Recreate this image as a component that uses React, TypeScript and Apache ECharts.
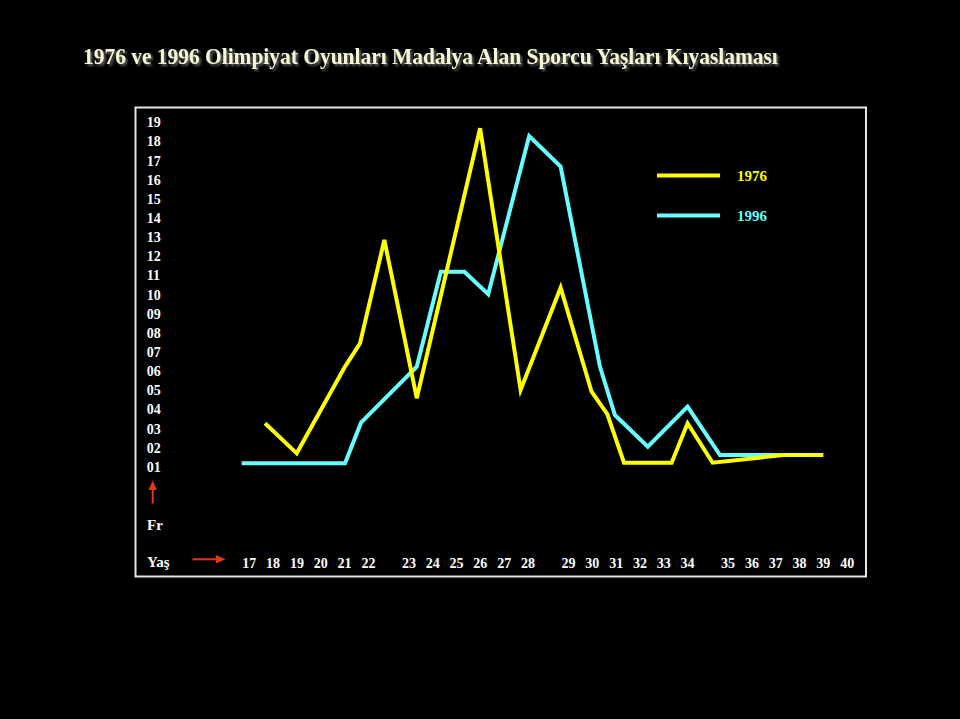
import React, { useEffect, useRef } from "react";
import * as echarts from "echarts";

// Tick labels (ages) – printed in four groups of six with a wider gap between groups
const AGE_LABELS = [
  "17", "18", "19", "20", "21", "22",
  "23", "24", "25", "26", "27", "28",
  "29", "30", "31", "32", "33", "34",
  "35", "36", "37", "38", "39", "40",
];
const GROUP_SIZE = 6;
const GROUP_GAP = 0.7;

// Frequency tick labels
const FREQ_TICKS = [1, 2, 3, 4, 5, 6, 7, 8, 9, 10, 11, 12, 13, 14, 15, 16, 17, 18, 19];

// 1976 series (x: position on age scale, y: frequency)
const X_1976 = [17.66, 18.99, 21.02, 21.65, 22.67, 24.03, 26.69, 28.39, 30.07, 31.37, 32.03, 32.73, 34.73, 35.4, 36.45, 39.42, 41.1];
const Y_1976 = [3.3, 1.73, 6.26, 7.48, 12.88, 4.61, 18.71, 5.04, 10.38, 4.95, 3.78, 1.24, 1.24, 3.3, 1.24, 1.64, 1.64];

// 1996 series
const X_1996 = [16.68, 21.02, 21.69, 24.03, 25.04, 26.03, 27.03, 28.75, 30.07, 31.72, 32.35, 33.73, 35.4, 36.76, 39.41];
const Y_1996 = [1.21, 1.21, 3.33, 6.26, 11.22, 11.22, 10.04, 18.31, 16.71, 6.26, 3.73, 2.08, 4.17, 1.64, 1.64];

const TITLE = "1976 ve 1996 Olimpiyat Oyunları Madalya Alan Sporcu Yaşları Kıyaslaması";

const YELLOW = "#FFFF00";
const CYAN = "#66FFFF";
const RED = "#E0391A";
const SERIF = '"Liberation Serif", "Times New Roman", serif';

export default function App() {
  const ref = useRef<HTMLDivElement>(null);

  useEffect(() => {
    document.body.style.margin = "0";
    document.body.style.background = "#000";
    if (!ref.current) return;
    const chart = echarts.init(ref.current, null, { renderer: "svg" });

    const labelPos = AGE_LABELS.map((a, i) => Number(a) + GROUP_GAP * Math.floor(i / GROUP_SIZE));
    const labelFor = (v: number) => {
      const idx = labelPos.findIndex((p) => Math.abs(p - v) < 1e-6);
      return idx >= 0 ? AGE_LABELS[idx] : "";
    };

    const option: any = {
      animation: false,
      backgroundColor: "#000",
      grid: { left: 225.48, right: 91.38, top: 103.64, bottom: 232.56, containLabel: false },
      xAxis: {
        type: "value",
        min: 16,
        max: 43,
        axisLine: { show: false },
        axisTick: { show: false },
        splitLine: { show: false },
        axisLabel: {
          customValues: labelPos,
          formatter: (v: number) => labelFor(v),
          color: "#FFFFFF",
          fontFamily: SERIF,
          fontWeight: "bold",
          fontSize: 14,
          margin: 70,
        },
      },
      yAxis: {
        type: "value",
        min: 0,
        max: 20,
        interval: 1,
        axisLine: { show: false },
        axisTick: { show: false },
        splitLine: { show: false },
        axisLabel: {
          formatter: (v: number) => (FREQ_TICKS.indexOf(v) >= 0 ? String(v).padStart(2, "0") : ""),
          color: "#FFFFFF",
          fontFamily: SERIF,
          fontWeight: "bold",
          fontSize: 14,
          align: "left",
          margin: 78.8,
        },
      },
      legend: {
        data: [
          { name: "1976", textStyle: { color: YELLOW } },
          { name: "1996", textStyle: { color: CYAN } },
        ],
        orient: "vertical",
        left: 657,
        top: 168,
        padding: 0,
        icon: "rect",
        itemWidth: 63,
        itemHeight: 4,
        itemGap: 25,
        selectedMode: false,
        textStyle: {
          fontFamily: SERIF,
          fontWeight: "bold",
          fontSize: 15,
          padding: [5, 0, 0, 12],
        },
      },
      series: [
        {
          name: "1996",
          type: "line",
          color: CYAN,
          symbol: "none",
          lineStyle: { width: 4, color: CYAN, join: "miter" },
          data: X_1996.map((x, i) => [x, Y_1996[i]]),
          z: 2,
        },
        {
          name: "1976",
          type: "line",
          color: YELLOW,
          symbol: "none",
          lineStyle: { width: 4, color: YELLOW, join: "miter" },
          data: X_1976.map((x, i) => [x, Y_1976[i]]),
          z: 3,
        },
      ],
      graphic: [
        {
          type: "rect",
          shape: { x: 135.5, y: 107.5, width: 730.5, height: 469 },
          style: { fill: "none", stroke: "#E6E6E6", lineWidth: 2 },
          silent: true,
        },
        {
          type: "text",
          x: 83,
          y: 56,
          scaleX: 0.893,
          style: {
            text: TITLE,
            fill: "#F7F7D6",
            fontFamily: SERIF,
            fontWeight: "bold",
            fontSize: 24,
            align: "left",
            verticalAlign: "middle",
            textShadowColor: "rgba(110,110,110,0.9)",
            textShadowOffsetX: 2,
            textShadowOffsetY: 2,
            textShadowBlur: 2,
          },
        },
        // up arrow (frequency)
        {
          type: "line",
          shape: { x1: 152.7, y1: 503.5, x2: 152.7, y2: 488 },
          style: { stroke: RED, lineWidth: 2 },
        },
        {
          type: "polygon",
          shape: { points: [[152.7, 480.5], [148.5, 490], [156.9, 490]] },
          style: { fill: RED },
        },
        {
          type: "text",
          x: 147,
          y: 524.5,
          style: {
            text: "Fr",
            fill: "#FFFFFF",
            fontFamily: SERIF,
            fontWeight: "bold",
            fontSize: 15,
            align: "left",
            verticalAlign: "middle",
          },
        },
        // right arrow (age)
        {
          type: "line",
          shape: { x1: 192.5, y1: 559.3, x2: 217, y2: 559.3 },
          style: { stroke: RED, lineWidth: 2 },
        },
        {
          type: "polygon",
          shape: { points: [[225.5, 559.3], [216, 555], [216, 563.6]] },
          style: { fill: RED },
        },
        {
          type: "text",
          x: 147,
          y: 562,
          style: {
            text: "Yaş",
            fill: "#FFFFFF",
            fontFamily: SERIF,
            fontWeight: "bold",
            fontSize: 15,
            align: "left",
            verticalAlign: "middle",
          },
        },
      ],
    };

    chart.setOption(option);
    return () => chart.dispose();
  }, []);

  return <div ref={ref} style={{ width: 960, height: 719, background: "#000" }} />;
}
